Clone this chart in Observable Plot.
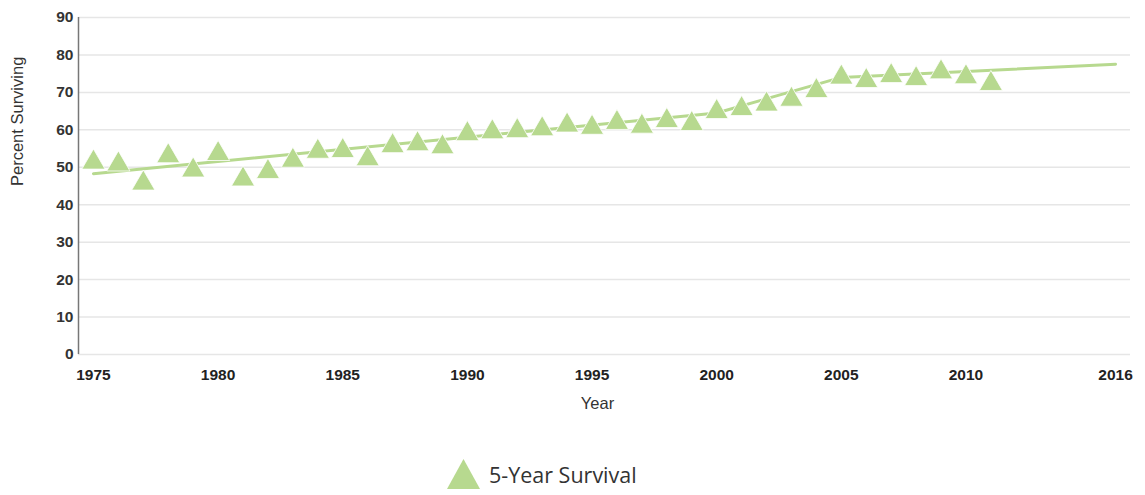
<!DOCTYPE html>
<html>
<head>
<meta charset="utf-8">
<script src="https://cdn.jsdelivr.net/npm/d3@7"></script>
<script src="https://cdn.jsdelivr.net/npm/@observablehq/plot@0.6"></script>
<style>
  html, body { margin: 0; padding: 0; background: #fff; }
  #chart { position: relative; width: 1145px; height: 495px; }
  #legend { position: absolute; left: 446px; top: 458px; display: flex; align-items: center;
            font-family: "Open Sans", sans-serif; font-size: 21.5px; color: #333; }
  #legend svg { margin-right: 8px; }
</style>
</head>
<body>
<div id="chart"><div id="legend"><svg width="35" height="32"><polygon points="17.5,1 34,31 1,31" fill="#b7d98f"/></svg><span>5-Year Survival</span></div></div>
<script>
const years = [1975,1976,1977,1978,1979,1980,1981,1982,1983,1984,1985,1986,1987,1988,1989,1990,1991,1992,1993,1994,1995,1996,1997,1998,1999,2000,2001,2002,2003,2004,2005,2006,2007,2008,2009,2010,2011];
const survival = [52.1,51.6,46.5,53.8,50.0,54.4,47.6,49.6,52.6,55.0,55.2,53.0,56.5,57.0,56.2,59.7,60.2,60.5,61.0,62.0,61.4,62.7,61.7,63.2,62.4,65.6,66.4,67.6,68.9,71.2,74.8,73.9,75.2,74.4,76.2,74.9,73.1];
const trendYears = [1975, 2000, 2005, 2016];
const trendValues = [48.3, 64.5, 74.0, 77.5];
const xTicks = [1975,1980,1985,1990,1995,2000,2005,2010,2016];
const yTicks = [0,10,20,30,40,50,60,70,80,90];

const points = years.map((y, i) => ({year: y, value: survival[i]}));
const trend = trendYears.map((y, i) => ({year: y, value: trendValues[i]}));
const green = "#b7d98f";

const plot = Plot.plot({
  width: 1145,
  height: 430,
  marginLeft: 78,
  marginRight: 15,
  marginTop: 17,
  marginBottom: 76,
  style: {fontFamily: "'Liberation Sans', Arial, sans-serif", background: "#fff"},
  x: {domain: [1974.4, 2016.6], axis: null},
  y: {domain: [0, 90], axis: null},
  marks: [
    Plot.gridY(yTicks, {stroke: "#e6e6e6", strokeOpacity: 1, strokeWidth: 1.5}),
    Plot.ruleX([1974.4], {y1: 0, y2: 90, stroke: "#777", strokeWidth: 1.5}),
    Plot.axisY(yTicks, {tickSize: 0, tickPadding: 5, fontSize: 15.5, fontWeight: "bold", fill: "#333", label: null, tickFormat: d => String(d)}),
    Plot.axisX(xTicks, {tickSize: 0, tickPadding: 14, fontSize: 15.5, fontWeight: "bold", fill: "#222", label: null, tickFormat: d => String(d)}),
    Plot.text(["Year"], {frameAnchor: "bottom", dx: -7, dy: 54, fontSize: 16.5, fill: "#333"}),
    Plot.text(["Percent Surviving"], {frameAnchor: "left", dx: -61, rotate: -90, fontSize: 16.5, fill: "#333"}),
    Plot.line(trend, {x: "year", y: "value", stroke: green, strokeWidth: 3}),
    Plot.dot(points, {x: "year", y: "value", symbol: "triangle", r: 8.6, fill: green, stroke: "#fff", strokeWidth: 0.8, dy: 3})
  ]
});
document.getElementById("chart").prepend(plot);
</script>
</body>
</html>
